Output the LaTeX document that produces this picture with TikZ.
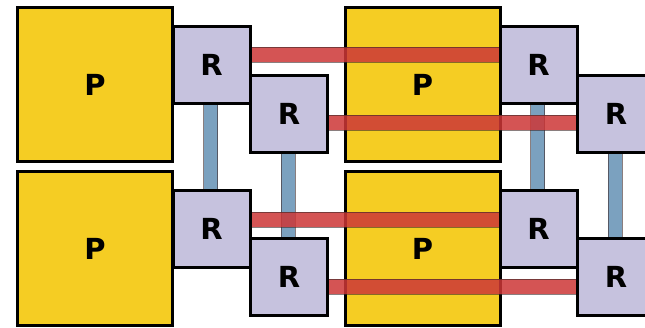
\documentclass[tikz,border=0pt]{standalone}
\usepackage{fontspec}
\setmainfont{DejaVu Sans}
\usetikzlibrary{calc}
\definecolor{pyellow}{RGB}{245,205,35}
\definecolor{rlav}{RGB}{198,194,222}
\definecolor{bandred}{RGB}{205,55,55}
\definecolor{bandblue}{RGB}{100,145,180}
\definecolor{bandedge}{RGB}{60,40,40}
\tikzset{
  pbox/.style={draw=black, line width=3pt, fill=pyellow, minimum width=155pt, minimum height=154pt, inner sep=0pt, font=\bfseries\fontsize{29}{29}\selectfont},
  rbox/.style={draw=black, line width=3pt, fill=rlav, minimum width=77pt, minimum height=77pt, inner sep=0pt, font=\bfseries\fontsize{29}{29}\selectfont},
  redband/.style={fill=bandred, fill opacity=0.85, draw=bandedge, draw opacity=0.6, line width=0.7pt},
  blueband/.style={fill=bandblue, fill opacity=0.85, draw=bandedge, draw opacity=0.6, line width=0.7pt},
}
\begin{document}
\begin{tikzpicture}[x=1pt,y=-1pt]
\clip (0,0) rectangle (645,328);
\fill[white] (0,0) rectangle (645,328);
% processors
\node[pbox] (p1) at (95,84.5) {P};
\node[pbox] (p2) at (422.5,84.5) {P};
\node[pbox] (p3) at (95,248.5) {P};
\node[pbox] (p4) at (422.5,248.5) {P};
% router positions (router nodes drawn last)
\coordinate (c1) at (211.5,65);
\coordinate (c2) at (289,114);
\coordinate (c3) at (211.5,229);
\coordinate (c4) at (289,277);
\coordinate (c5) at (538.5,65);
\coordinate (c6) at (616,114);
\coordinate (c7) at (538.5,229);
\coordinate (c8) at (616,277);
% blue vertical links
\draw[blueband] ($(c1)+(-8,38.5)$) rectangle ($(c3)+(6,-38.5)$);
\draw[blueband] ($(c2)+(-8,38.5)$) rectangle ($(c4)+(6,-38.5)$);
\draw[blueband] ($(c5)+(-8,38.5)$) rectangle ($(c7)+(6,-38.5)$);
\draw[blueband] ($(c6)+(-8,38.5)$) rectangle ($(c8)+(6,-38.5)$);
% red horizontal links
\draw[redband] ($(c1)+(38.5,-17.5)$) rectangle ($(c5)+(-38.5,-2.5)$);
\draw[redband] ($(c2)+(38.5,1.5)$) rectangle ($(c6)+(-38.5,16.5)$);
\draw[redband] ($(c3)+(38.5,-16.5)$) rectangle ($(c7)+(-38.5,-1.5)$);
\draw[redband] ($(c4)+(38.5,2.5)$) rectangle ($(c8)+(-38.5,17.5)$);
% routers
\node[rbox] (r1) at (c1) {R};
\node[rbox] (r2) at (c2) {R};
\node[rbox] (r3) at (c3) {R};
\node[rbox] (r4) at (c4) {R};
\node[rbox] (r5) at (c5) {R};
\node[rbox] (r6) at (c6) {R};
\node[rbox] (r7) at (c7) {R};
\node[rbox] (r8) at (c8) {R};
\end{tikzpicture}
\end{document}
